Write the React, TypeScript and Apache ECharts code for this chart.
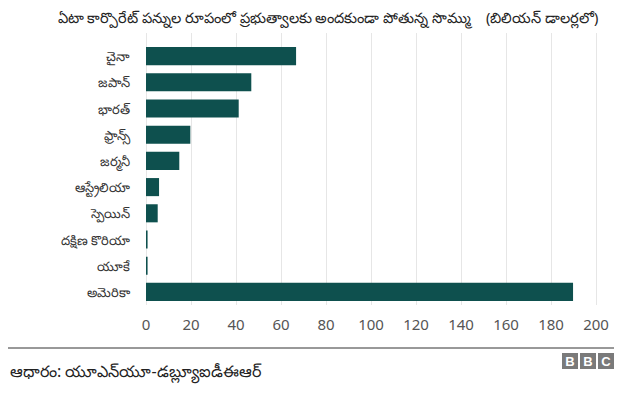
import React, { useEffect, useRef } from "react";
import * as echarts from "echarts";

const categories = [
  "చైనా",
  "జపాన్",
  "భారత్",
  "ఫ్రాన్స్",
  "జర్మనీ",
  "ఆస్ట్రేలియా",
  "స్పెయిన్",
  "దక్షిణ కొరియా",
  "యూకే",
  "అమెరికా",
];
const values = [66.7, 46.8, 41.2, 19.7, 14.8, 5.8, 5.2, 0.7, 0.7, 189.8];
const xTicks = { min: 0, max: 200, interval: 20 };
const titleText =
  "ఏటా కార్పొరేట్ పన్నుల రూపంలో ప్రభుత్వాలకు అందకుండా పోతున్న సొమ్ము    (బిలియన్ డాలర్లలో)";
const sourceText = "ఆధారం: యూఎన్‌యూ-డబ్ల్యూఐడీఈఆర్";

export default function App() {
  const ref = useRef<HTMLDivElement>(null);
  useEffect(() => {
    if (!ref.current) return;
    const chart = echarts.init(ref.current, undefined, { renderer: "svg" });
    const font = "'Noto Sans', Arial, sans-serif";
    chart.setOption({
      animation: false,
      backgroundColor: "#ffffff",
      textStyle: { fontFamily: font },
      grid: [
        { left: 138, right: 36, top: 35, bottom: 88, containLabel: false },
        { left: 138, right: 36, top: 25, bottom: 88, containLabel: false },
      ],
      xAxis: [
        {
          gridIndex: 0,
          type: "value",
          ...xTicks,
          axisLine: { show: false },
          axisTick: { show: false },
          splitLine: { show: false },
          axisLabel: { color: "#555", fontSize: 15, margin: 11, fontFamily: font },
        },
        {
          gridIndex: 1,
          type: "value",
          ...xTicks,
          axisLine: { show: false },
          axisTick: { show: false },
          axisLabel: { show: false },
          splitLine: { show: true, lineStyle: { color: "#e6e6e6", width: 1 } },
        },
      ],
      yAxis: [
        {
          gridIndex: 0,
          type: "category",
          data: categories,
          inverse: true,
          axisLine: { show: false },
          axisTick: { show: false },
          axisLabel: { color: "#333", fontSize: 13, margin: 16, fontFamily: font },
        },
        {
          gridIndex: 1,
          type: "category",
          data: categories,
          show: false,
        },
      ],
      series: [
        {
          type: "bar",
          xAxisIndex: 0,
          yAxisIndex: 0,
          data: values,
          barCategoryGap: "31%",
          itemStyle: { color: "#0e504e" },
          z: 3,
        },
      ],
      graphic: [
        {
          type: "text",
          x: 320,
          y: 1,
          style: {
            text: titleText,
            fontSize: 14.5,
            fill: "#222",
            fontFamily: font,
            align: "center",
          },
        },
        {
          type: "line",
          shape: { x1: 0, y1: 340, x2: 606, y2: 340 },
          style: { stroke: "#333", lineWidth: 1 },
        },
        {
          type: "text",
          x: 2,
          y: 355,
          style: { text: sourceText, fontSize: 16, fill: "#222", fontFamily: font },
        },
        ...["B", "B", "C"].map((ch, i) => ({
          type: "group",
          x: 554 + i * 18,
          y: 345,
          children: [
            { type: "rect", shape: { x: 0, y: 0, width: 16, height: 16 }, style: { fill: "#7a7a7a" } },
            {
              type: "text",
              x: 8,
              y: 8,
              style: {
                text: ch,
                fill: "#fff",
                fontSize: 13,
                fontWeight: "bold",
                fontFamily: "Arial, 'Liberation Sans', sans-serif",
                align: "center",
                verticalAlign: "middle",
              },
            },
          ],
        })),
      ],
    });
    return () => chart.dispose();
  }, []);
  return <div ref={ref} style={{ width: 624, height: 385 }} />;
}
